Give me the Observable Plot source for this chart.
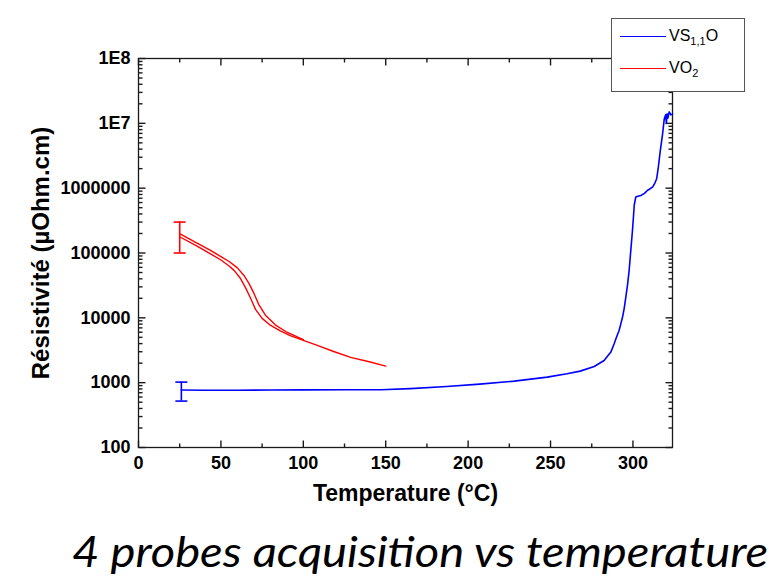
<!DOCTYPE html>
<html><head><meta charset="utf-8">
<script src="https://cdn.jsdelivr.net/npm/d3@7"></script>
<script src="https://cdn.jsdelivr.net/npm/@observablehq/plot@0.6"></script>
<style>
body{margin:0;background:#fff;}
#wrap{position:relative;width:776px;height:576px;overflow:hidden;background:#fff;}
#chart svg text{font-family:"Liberation Sans",Arial,sans-serif;}
#legend{position:absolute;left:611px;top:18px;width:132px;height:72px;border:1px solid #555;background:#fff;font-family:"Liberation Sans",Arial,sans-serif;font-size:16px;color:#000;}
.entry{position:absolute;left:8px;height:20px;display:flex;align-items:center;}
.sample{width:46px;height:0;border-top:1.5px solid;margin-right:3px;}
sub{font-size:11px;vertical-align:-4px;line-height:0;}
#caption{position:absolute;left:72px;top:530px;font-family:Lato,"Open Sans",sans-serif;font-style:italic;font-size:42px;line-height:1;white-space:nowrap;color:#000;transform-origin:0 0;}
</style></head><body>
<div id="wrap"><div id="chart"></div>
<div id="legend">
<div class="entry" style="top:7px"><div class="sample" style="border-color:#0000ff"></div><span>VS<sub>1,1</sub>O</span></div>
<div class="entry" style="top:39px"><div class="sample" style="border-color:#ff0000"></div><span>VO<sub>2</sub></span></div>
</div>
<div id="caption">4 probes acquisition vs temperature</div>
</div>
<script>
// ---- data ----
const blueT = [26, 40, 60, 80, 100, 125, 147, 165, 187, 207, 228, 248, 260, 268, 276.5, 282.5, 286.6, 288.6, 290, 291.6, 292.6, 293.7, 294.7, 295.7, 296.7, 297.7, 298.7, 299.7, 300.3, 300.8, 301.7, 303, 304.8, 307, 308.9, 310.5, 312, 313.3, 314.4, 315.4, 316.6, 318, 319, 319.8, 320.3, 320.7, 321.2, 322, 323, 324];
const blueR = [770, 765, 765, 770, 775, 778, 777, 810, 874, 950, 1055, 1216, 1372, 1507, 1778, 2200, 2960, 3980, 5000, 6390, 8000, 10300, 14000, 21000, 32000, 54000, 110000, 220000, 360000, 550000, 730000, 750000, 770000, 830000, 930000, 980000, 1050000, 1200000, 1400000, 2100000, 3800000, 6900000, 11700000, 13500000, 10000000, 14000000, 12000000, 15000000, 13500000, 14000000];

const redUpT = [25.5, 35, 43.7, 50, 55, 60, 64, 67, 70, 73, 77, 83, 90, 100];
const redUpR = [195000, 145000, 110000, 88000, 74000, 59000, 45000, 34000, 24000, 16000, 11000, 7800, 6000, 4600];
const redLowT = [25.5, 35, 43.7, 50, 55, 58, 62, 65, 68, 71, 75, 80, 86, 92, 100, 108.5, 118, 128.7, 140, 150];
const redLowR = [175000, 130000, 97000, 78000, 63000, 54000, 40000, 29000, 20000, 13500, 9800, 7700, 6300, 5300, 4500, 3750, 3050, 2450, 2100, 1800];

const errT = [26, 25];
const errLow = [520, 100000];
const errHigh = [1020, 300000];
const errColor = ["#0000ff", "#ff0000"];

const xMajor = [0, 50, 100, 150, 200, 250, 300];
const xMinor = [25, 75, 125, 175, 225, 275];
const yMajor = [100, 1e3, 1e4, 1e5, 1e6, 1e7, 1e8];
const yLabels = ["100", "1000", "10000", "100000", "1000000", "1E7", "1E8"];
const yMinor = [];
for (const dec of [100, 1e3, 1e4, 1e5, 1e6, 1e7]) for (let k = 2; k <= 9; k++) yMinor.push(dec * k);

// ---- build tables ----
const blue = blueT.map((t, i) => ({T: t, R: blueR[i]}));
const red = [
  ...redUpT.map((t, i) => ({T: t, R: redUpR[i], s: "up"})),
  ...redLowT.map((t, i) => ({T: t, R: redLowR[i], s: "low"}))
];
const errs = errT.map((t, i) => ({T: t, lo: errLow[i], hi: errHigh[i], c: errColor[i]}));

const W = 776, H = 520, mL = 138, mR = 104, mT = 58, mB = 73;
const FONT = "'Liberation Sans', Arial, sans-serif";
const rad = s => Math.sqrt(s / Math.PI);
const capSymbol = {draw(ctx, s) { const r = rad(s); ctx.moveTo(-r, 0); ctx.lineTo(r, 0); }};
const tickUp = {draw(ctx, s) { ctx.moveTo(0, 0); ctx.lineTo(0, -rad(s)); }};
const tickDown = {draw(ctx, s) { ctx.moveTo(0, 0); ctx.lineTo(0, rad(s)); }};
const tickRight = {draw(ctx, s) { ctx.moveTo(0, 0); ctx.lineTo(rad(s), 0); }};
const tickLeft = {draw(ctx, s) { ctx.moveTo(0, 0); ctx.lineTo(-rad(s), 0); }};
const ink = "#1a1a1a";
const tk = (data, ch, anchor, sym, r) => Plot.dot(data, {[ch]: d => d, frameAnchor: anchor, symbol: sym, r, fill: "none", stroke: ink, strokeWidth: 1.4});

const chart = Plot.plot({
  width: W, height: H,
  marginLeft: mL, marginRight: mR, marginTop: mT, marginBottom: mB,
  style: {fontFamily: FONT},
  x: {domain: [0, 324]},
  y: {type: "log", domain: [100, 1e8]},
  marks: [
    Plot.frame({stroke: ink, strokeWidth: 1.3}),
    tk(xMajor, "x", "bottom", tickUp, 7),
    tk(xMajor, "x", "top", tickDown, 7),
    tk(xMinor, "x", "bottom", tickUp, 4),
    tk(xMinor, "x", "top", tickDown, 4),
    tk(yMajor, "y", "left", tickRight, 7),
    tk(yMajor, "y", "right", tickLeft, 7),
    tk(yMinor, "y", "left", tickRight, 4),
    tk(yMinor, "y", "right", tickLeft, 4),
    Plot.axisX(xMajor, {tickSize: 0, tickPadding: 9, fontSize: 18, fontWeight: "bold", fontFamily: FONT, label: null}),
    Plot.axisY(yMajor, {tickSize: 0, tickPadding: 8, fontSize: 18, fontWeight: "bold", fontFamily: FONT, label: null,
      tickFormat: d => yLabels[yMajor.indexOf(d)]}),
    Plot.text(["Temperature (°C)"], {text: d => d, frameAnchor: "bottom", textAnchor: "middle", dy: 53, fontSize: 23, fontWeight: "bold", fontFamily: FONT}),
    Plot.text(["Résistivité (µOhm.cm)"], {text: d => d, frameAnchor: "left", textAnchor: "middle", dx: -97, rotate: -90, fontSize: 24, fontWeight: "bold", fontFamily: FONT}),
    Plot.line(red, {x: "T", y: "R", z: "s", stroke: "#ff0000", strokeWidth: 1.4}),
    Plot.line(blue, {x: "T", y: "R", stroke: "#0000ff", strokeWidth: 1.6}),
    Plot.ruleX(errs, {x: "T", y1: "lo", y2: "hi", stroke: "c", strokeWidth: 1.6}),
    Plot.dot(errs, {x: "T", y: "lo", symbol: capSymbol, r: 6, fill: "none", stroke: "c", strokeWidth: 1.6}),
    Plot.dot(errs, {x: "T", y: "hi", symbol: capSymbol, r: 6, fill: "none", stroke: "c", strokeWidth: 1.6})
  ]
});
document.getElementById("chart").appendChild(chart);
// stretch caption to span the reference's width
const cap = document.getElementById("caption");
const w = cap.getBoundingClientRect().width;
cap.style.transform = `scaleX(${696 / w})`;
</script>
</body></html>
